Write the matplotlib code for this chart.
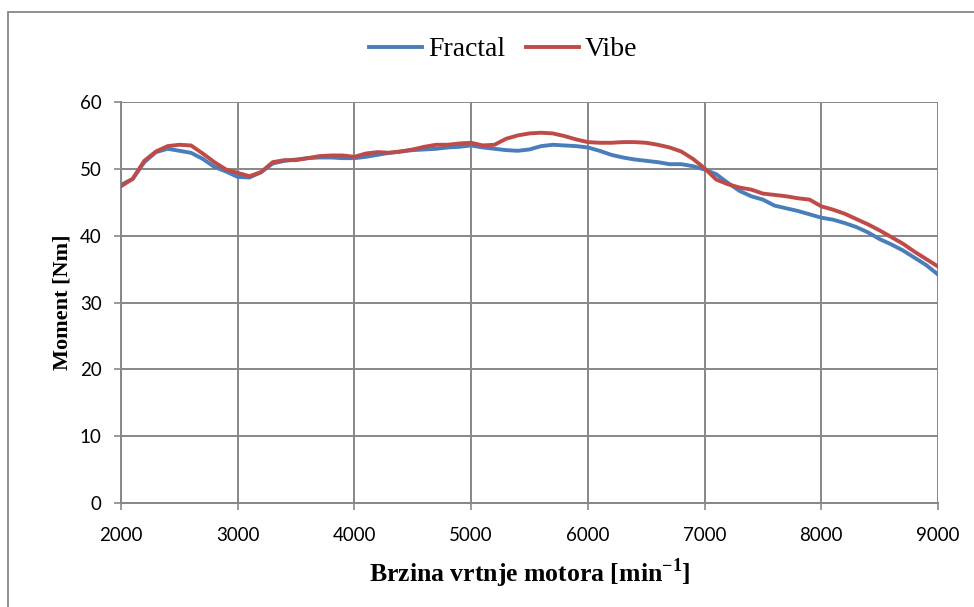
import matplotlib
matplotlib.use("Agg")
import matplotlib.pyplot as plt
from matplotlib.patches import Rectangle

# engine speed [min^-1]
rpm = list(range(2000, 9001, 100))

fractal = [47.6, 48.5, 51.0, 52.5, 53.0, 52.7, 52.4, 51.5, 50.3, 49.6,
           48.8, 48.7, 49.5, 50.8, 51.2, 51.4, 51.6, 51.7, 51.7, 51.6,
           51.6, 51.8, 52.1, 52.4, 52.6, 52.8, 52.9, 53.0, 53.2, 53.3,
           53.5, 53.2, 53.0, 52.8, 52.7, 52.9, 53.4, 53.6, 53.5, 53.4,
           53.2, 52.7, 52.1, 51.7, 51.4, 51.2, 51.0, 50.7, 50.7, 50.4,
           49.9, 49.2, 47.9, 46.7, 45.9, 45.4, 44.5, 44.1, 43.7, 43.2,
           42.7, 42.4, 41.9, 41.3, 40.5, 39.5, 38.7, 37.8, 36.7, 35.6,
           34.2]

vibe = [47.4, 48.5, 51.2, 52.6, 53.4, 53.6, 53.5, 52.3, 51.0, 49.9,
        49.4, 48.9, 49.5, 51.0, 51.3, 51.3, 51.6, 51.9, 52.0, 52.0,
        51.8, 52.3, 52.5, 52.4, 52.6, 52.9, 53.3, 53.6, 53.6, 53.8,
        53.9, 53.5, 53.6, 54.5, 55.0, 55.3, 55.4, 55.3, 54.9, 54.4,
        54.0, 53.9, 53.9, 54.0, 54.0, 53.9, 53.6, 53.2, 52.6, 51.5,
        50.1, 48.4, 47.7, 47.2, 46.9, 46.3, 46.1, 45.9, 45.6, 45.4,
        44.4, 43.9, 43.3, 42.5, 41.7, 40.8, 39.8, 38.8, 37.6, 36.5,
        35.4]

x_ticks = list(range(2000, 9001, 1000))
y_ticks = list(range(0, 61, 10))

grid_col = "#878787"

fig = plt.figure(figsize=(9.74, 6.07), dpi=100)
ax = fig.add_axes([0.1242, 0.171, 0.8388, 0.661])

ax.plot(rpm, fractal, color="#4a7ebb", lw=2.8, label="Fractal", zorder=3)
ax.plot(rpm, vibe, color="#be4b48", lw=2.8, label="Vibe", zorder=3)

ax.set_xlim(2000, 9000)
ax.set_ylim(0, 60)
ax.set_xticks(x_ticks)
ax.set_yticks(y_ticks)
ax.grid(True, color=grid_col, lw=1.4)
ax.set_axisbelow(True)

for side in ["top", "right"]:
    ax.spines[side].set_visible(False)
for side in ["left", "bottom"]:
    ax.spines[side].set_color(grid_col)
    ax.spines[side].set_linewidth(1.4)
ax.tick_params(colors=grid_col, length=5, width=1.2, labelcolor="black",
               labelsize=13.5)
for lab in ax.get_xticklabels() + ax.get_yticklabels():
    lab.set_family("Lato")
ax.tick_params(axis="x", pad=12)
ax.tick_params(axis="y", pad=9)

ax.set_xlabel("Brzina vrtnje motora [min$^{\\mathregular{-1}}$]", family="Liberation Serif",
              fontsize=18.5, fontweight="bold", labelpad=9)
ax.set_ylabel("Moment [Nm]", family="Liberation Serif", fontsize=16,
              fontweight="bold", labelpad=5)

leg = fig.legend(loc="center", bbox_to_anchor=(0.517, 0.918), ncol=2, frameon=False,
                 prop={"family": "Liberation Serif", "size": 20},
                 handlelength=1.9, columnspacing=0.75, handletextpad=0.22)

# chart area border (only top and left edges fall inside the image)
fig.patches.append(Rectangle((0.0082, -0.05), 1.1, 1.03, transform=fig.transFigure,
                             fill=False, edgecolor=grid_col, lw=1.3))

fig.savefig("out.png", dpi=100)
